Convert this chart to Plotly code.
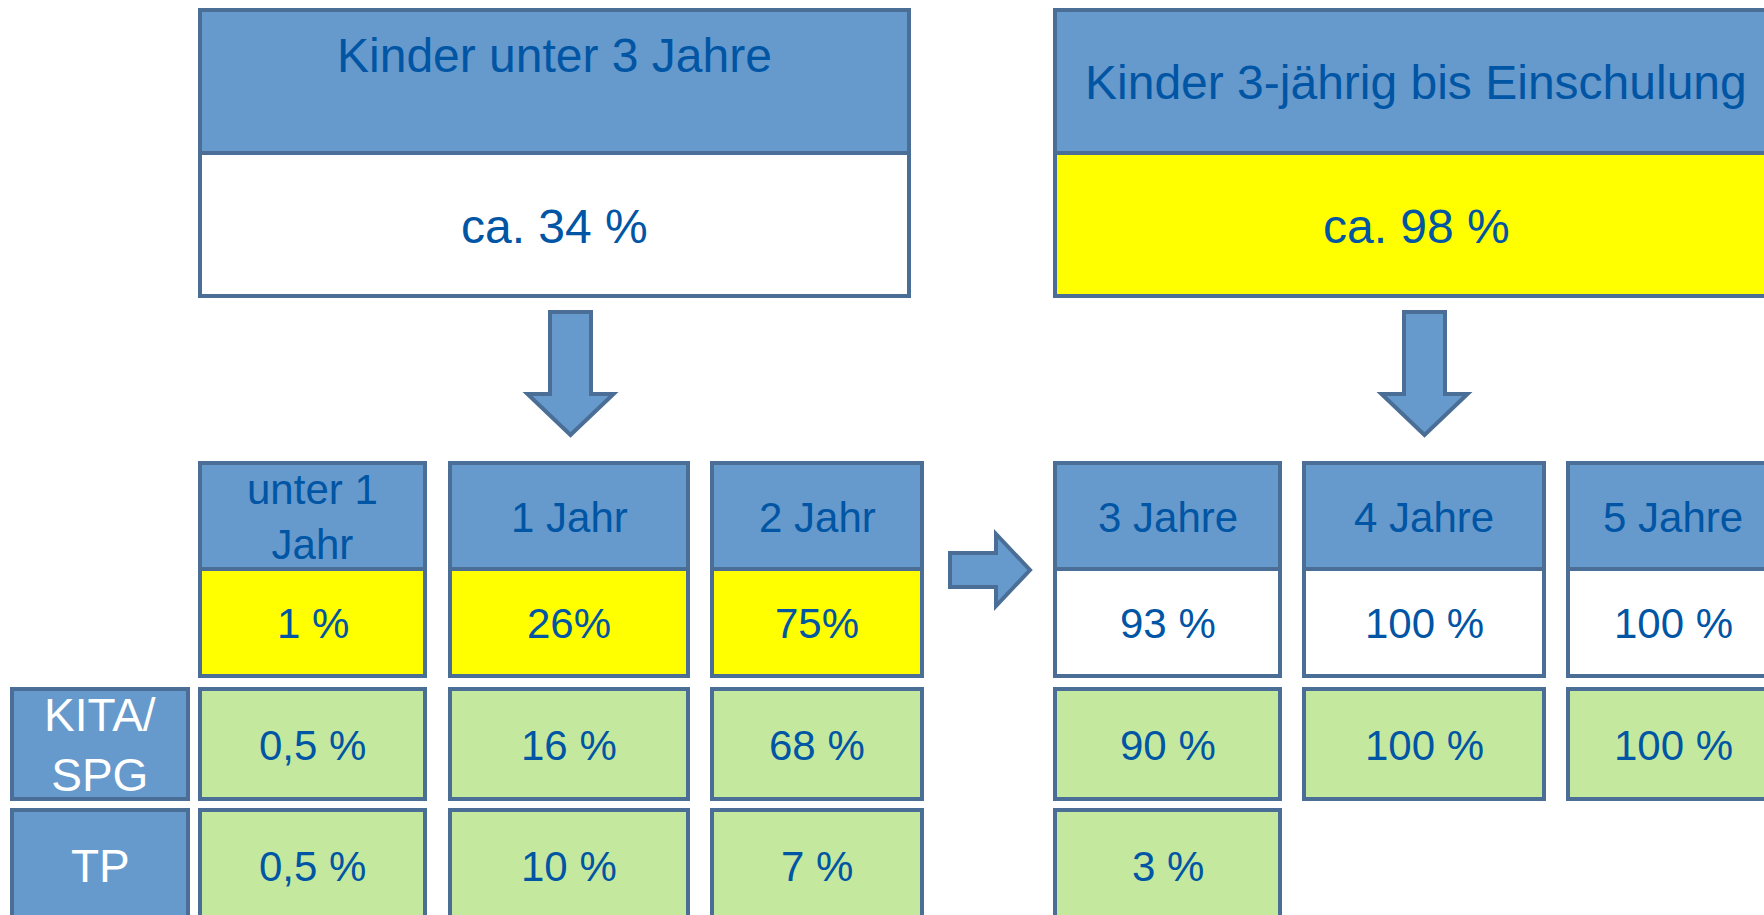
import plotly.graph_objects as go

# ---------------- data ----------------
top_titles = ["Kinder unter 3 Jahre", "Kinder 3-jährig bis Einschulung"]
top_values = ["ca. 34 %", "ca. 98 %"]
age_groups = ["unter 1<br>Jahr", "1 Jahr", "2 Jahr", "3 Jahre", "4 Jahre", "5 Jahre"]
total_share = ["1 %", "26%", "75%", "93 %", "100 %", "100 %"]
kita_share = ["0,5 %", "16 %", "68 %", "90 %", "100 %", "100 %"]
tp_share = ["0,5 %", "10 %", "7 %", "3 %", None, None]
row_labels = ["KITA/<br>SPG", "TP"]

# ---------------- styles ----------------
W, H = 1764, 915
BLUE = "#6699CC"
BORDER = "#4A6E96"
TXT = "#0055A4"
YELLOW = "#FFFF00"
GREEN = "#C4E89E"
WHITE = "#FFFFFF"
FONT = "Liberation Sans, Arial, sans-serif"
LW = 4

top_body_fill = [WHITE, YELLOW]
total_fill = [YELLOW, YELLOW, YELLOW, WHITE, WHITE, WHITE]

# layout geometry (pixels)
top_x = [(200, 909), (1055, 1790)]
top_text_x = [554.5, 1416]
top_y = (10, 153, 296)
top_title_y = [55, 82]
col_x = [(200, 425), (450, 688), (712, 922), (1055, 1280), (1304, 1544), (1568, 1790)]
col_text_x = [312.5, 569, 817, 1167.5, 1424, 1673]
hdr_y = (463, 569)
pct_y = (569, 676)
kita_y = (689, 799)
tp_y = (810, 930)
label_x = (12, 188)

fig = go.Figure()
shapes = []
annos = []


def rect(x0, x1, y0, y1, fill):
    shapes.append(dict(type="rect", xref="x", yref="y", x0=x0, x1=x1, y0=y0, y1=y1,
                       fillcolor=fill, line=dict(color=BORDER, width=LW), layer="below"))


def text(x, y, s, size, color=TXT):
    annos.append(dict(x=x, y=y, xref="x", yref="y", text=s, showarrow=False,
                      font=dict(family=FONT, size=size, color=color),
                      xanchor="center", yanchor="middle"))


# top boxes
for i in range(2):
    x0, x1 = top_x[i]
    rect(x0, x1, top_y[0], top_y[1], BLUE)
    rect(x0, x1, top_y[1], top_y[2], top_body_fill[i])
    text(top_text_x[i], top_title_y[i], top_titles[i], 48)
    text(top_text_x[i], (top_y[1] + top_y[2]) / 2 + 2, top_values[i], 48)

# down arrows
for cx in [570.5, 1424.5]:
    sw, hw = 20.5, 43
    y0, yh, yt = 312, 394, 435
    path = (f"M {cx-sw} {y0} L {cx+sw} {y0} L {cx+sw} {yh} L {cx+hw} {yh} "
            f"L {cx} {yt} L {cx-hw} {yh} L {cx-sw} {yh} Z")
    shapes.append(dict(type="path", xref="x", yref="y", path=path, fillcolor=BLUE,
                       line=dict(color=BORDER, width=LW)))

# right arrow
path = "M 950 553 L 996 553 L 996 534 L 1030 570 L 996 606 L 996 587 L 950 587 Z"
shapes.append(dict(type="path", xref="x", yref="y", path=path, fillcolor=BLUE,
                   line=dict(color=BORDER, width=LW)))

# grid
for i, (x0, x1) in enumerate(col_x):
    cx = col_text_x[i]
    rect(x0, x1, hdr_y[0], hdr_y[1], BLUE)
    text(cx, (hdr_y[0] + hdr_y[1]) / 2 + 1, age_groups[i], 42)
    rect(x0, x1, pct_y[0], pct_y[1], total_fill[i])
    text(cx, (pct_y[0] + pct_y[1]) / 2 + 1, total_share[i], 42)
    rect(x0, x1, kita_y[0], kita_y[1], GREEN)
    text(cx, (kita_y[0] + kita_y[1]) / 2 + 1, kita_share[i], 42)
    if tp_share[i] is not None:
        rect(x0, x1, tp_y[0], tp_y[1], GREEN)
        text(cx, 866, tp_share[i], 42)

# row labels
rect(label_x[0], label_x[1], kita_y[0], kita_y[1], BLUE)
text(100, (kita_y[0] + kita_y[1]) / 2 + 1, row_labels[0], 46, WHITE)
rect(label_x[0], label_x[1], tp_y[0], tp_y[1], BLUE)
text(100, 866, row_labels[1], 46, WHITE)

fig.update_layout(
    width=W, height=H, margin=dict(l=0, r=0, t=0, b=0),
    paper_bgcolor="white", plot_bgcolor="white",
    xaxis=dict(range=[0, W], visible=False, fixedrange=True),
    yaxis=dict(range=[H, 0], visible=False, fixedrange=True),
    shapes=shapes, annotations=annos, showlegend=False,
)

fig.write_html("out.html", config={"displayModeBar": False},
               post_script="document.body.style.margin='0';document.body.style.overflow='hidden';")
